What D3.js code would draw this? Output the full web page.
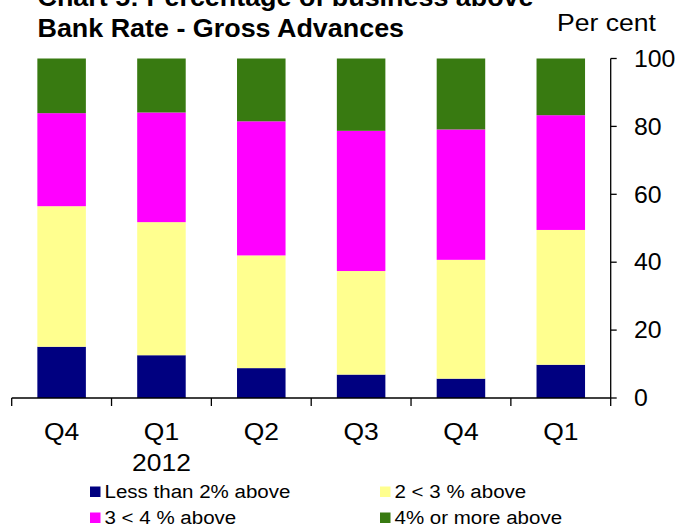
<!DOCTYPE html>
<html>
<head>
<meta charset="utf-8">
<script src="https://cdn.jsdelivr.net/npm/d3@7"></script>
<style>
  html, body { margin: 0; padding: 0; background: #fff; }
  svg { display: block; font-family: "Liberation Sans", Arial, sans-serif; }
</style>
</head>
<body>
<svg id="chart" width="680" height="526"></svg>
<script>
// ---- data ----
const categories = ["Q4", "Q1", "Q2", "Q3", "Q4 ", "Q1 "];
const categoryLabels = ["Q4", "Q1", "Q2", "Q3", "Q4", "Q1"];
const yearLabels = ["", "2012", "", "", "", ""];
const seriesNames = ["Less than 2% above", "2 < 3 % above", "3 < 4 % above", "4% or more above"];
const lessThan2 = [15.1, 12.6, 8.8, 6.9, 5.7, 9.8];
const from2to3 = [41.4, 39.2, 33.2, 30.5, 35.0, 39.7];
const from3to4 = [27.4, 32.3, 39.5, 41.3, 38.4, 33.8];
const over4 = [16.1, 15.9, 18.5, 21.3, 20.9, 16.7];
const yTicks = [0, 20, 40, 60, 80, 100];
const colors = ["#000080", "#FFFF8F", "#FF00FF", "#387A11"];

const rows = categories.map((c, i) => ({
  cat: c, s0: lessThan2[i], s1: from2to3[i], s2: from3to4[i], s3: over4[i]
}));
const keys = ["s0", "s1", "s2", "s3"];

const svg = d3.select("#chart");
const SX = 1.08;

function txt(sel, x, y, s, opts) {
  const t = sel.append("text")
    .attr("transform", `translate(${x},${y}) scale(${opts.sx || SX},1)`)
    .attr("font-size", opts.size)
    .attr("font-weight", opts.bold ? "bold" : "normal")
    .attr("text-anchor", opts.anchor || "start")
    .attr("fill", "#000")
    .text(s);
  if (opts.dy) t.attr("dy", opts.dy);
  return t;
}

const x = d3.scaleBand().domain(categories).range([11.7, 610.7]).paddingInner(0.514).paddingOuter(0.257);
const y = d3.scaleLinear().domain([0, 100]).range([398, 58.5]);

const stack = d3.stack().keys(keys)(rows);

svg.append("g").selectAll("g").data(stack).join("g")
  .attr("fill", (d, i) => colors[i])
  .selectAll("rect").data(d => d).join("rect")
  .attr("x", d => x(d.data.cat))
  .attr("width", x.bandwidth())
  .attr("y", d => y(d[1]))
  .attr("height", d => y(d[0]) - y(d[1]));

// x axis
const xAxisG = svg.append("g");
xAxisG.append("line")
  .attr("x1", 11.7).attr("x2", 610.7).attr("y1", y(0)).attr("y2", y(0))
  .attr("stroke", "#000").attr("stroke-width", 1.3);
const bounds = d3.range(categories.length + 1).map(i => 11.7 + i * (599 / categories.length));
xAxisG.selectAll("line.tk").data(bounds).join("line").attr("class", "tk")
  .attr("x1", d => d).attr("x2", d => d).attr("y1", y(0)).attr("y2", y(0) + 8)
  .attr("stroke", "#000").attr("stroke-width", 1.3);

categories.forEach((c, i) => {
  const cx = x(c) + x.bandwidth() / 2;
  txt(svg, cx, 440, categoryLabels[i], { size: 24.5, anchor: "middle" });
  if (yearLabels[i]) txt(svg, cx, 471, yearLabels[i], { size: 24.5, anchor: "middle" });
});

// y axis (right)
const yAxisG = svg.append("g");
yAxisG.append("line")
  .attr("x1", 610.7).attr("x2", 610.7).attr("y1", y(100)).attr("y2", y(0))
  .attr("stroke", "#000").attr("stroke-width", 1.3);
yAxisG.selectAll("line.tk").data(yTicks).join("line").attr("class", "tk")
  .attr("x1", 610.7).attr("x2", 616.7).attr("y1", d => y(d)).attr("y2", d => y(d))
  .attr("stroke", "#000").attr("stroke-width", 1.3);
yTicks.forEach(v => {
  txt(svg, 634, y(v), String(v), { size: 23, dy: "0.36em" });
});

// titles
txt(svg, 37.5, 5.5, "Chart 5: Percentage of business above", { size: 24.9, bold: true });
txt(svg, 37.5, 36.5, "Bank Rate - Gross Advances", { size: 24.9, bold: true });
txt(svg, 557, 31, "Per cent", { size: 24.6 });

// legend
const legendPos = [[90, 498], [380, 498], [90, 524], [380, 524]];
seriesNames.forEach((n, i) => {
  const [lx, ly] = legendPos[i];
  svg.append("rect").attr("x", lx).attr("y", ly - 11.5).attr("width", 10.5).attr("height", 10.5).attr("fill", colors[i]);
  txt(svg, lx + 14.5, ly, n, { size: 19 });
});
</script>
</body>
</html>
